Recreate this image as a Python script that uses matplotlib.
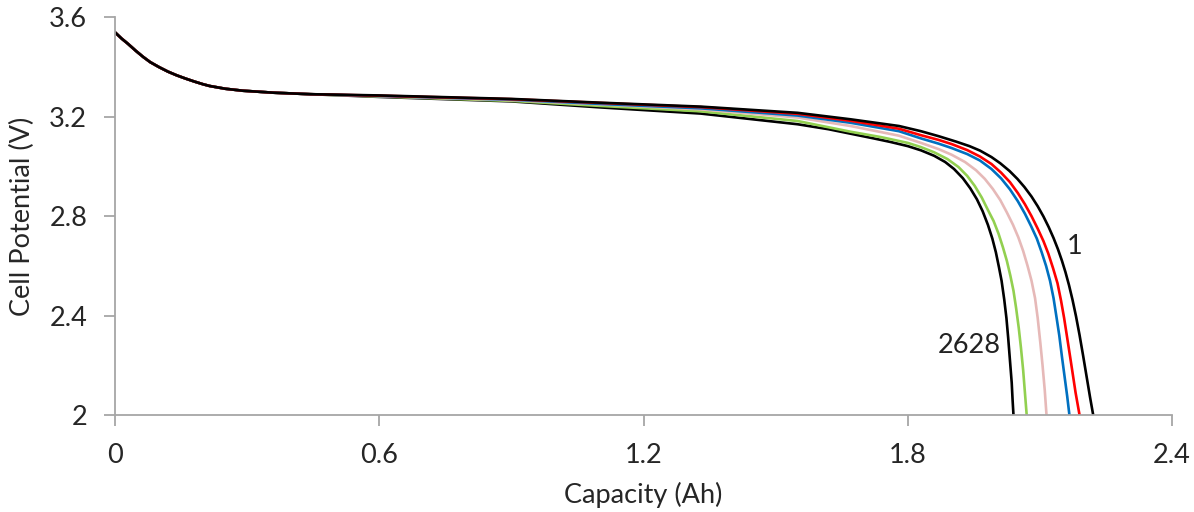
import matplotlib.pyplot as plt

plt.rc('font', family=['Lato', 'DejaVu Sans'], size=19.5)

# shared start of every discharge curve (capacity Ah, potential V)
head_x = [0.0, 0.015, 0.03, 0.047, 0.064, 0.08, 0.1, 0.12, 0.14, 0.16, 0.18, 0.2,
          0.215, 0.25, 0.29, 0.36, 0.443]
head_y = [3.54, 3.515, 3.493, 3.466, 3.441, 3.42, 3.40, 3.382, 3.367, 3.354, 3.342, 3.331,
          3.324, 3.313, 3.305, 3.297, 3.291]

# cycle 1 (black)
c1_x = [0.6, 0.9, 1.1, 1.33, 1.55, 1.67, 1.78, 1.83, 1.87, 1.91, 1.94, 1.964, 1.99, 2.01,
        2.031, 2.049, 2.065, 2.081, 2.095, 2.108, 2.120, 2.131, 2.141, 2.150, 2.158, 2.166,
        2.174, 2.182, 2.190, 2.198, 2.206, 2.214, 2.221]
c1_y = [3.286, 3.272, 3.257, 3.241, 3.216, 3.190, 3.163, 3.142, 3.122, 3.100, 3.082, 3.064,
        3.038, 3.013, 2.982, 2.950, 2.917, 2.879, 2.840, 2.799, 2.756, 2.712, 2.667, 2.621,
        2.575, 2.523, 2.464, 2.397, 2.322, 2.240, 2.155, 2.070, 2.0]
# red
red_x = [0.6, 0.9, 1.1, 1.33, 1.55, 1.67, 1.78, 1.83, 1.87, 1.90, 1.935, 1.964, 1.99, 2.012,
         2.032, 2.050, 2.066, 2.081, 2.095, 2.108, 2.119, 2.130, 2.140, 2.148, 2.155, 2.162,
         2.169, 2.175, 2.181, 2.186, 2.190]
red_y = [3.285, 3.271, 3.256, 3.239, 3.212, 3.184, 3.152, 3.126, 3.107, 3.090, 3.066, 3.040,
         3.010, 2.975, 2.937, 2.893, 2.848, 2.80, 2.75, 2.70, 2.65, 2.59, 2.53, 2.46, 2.39,
         2.31, 2.23, 2.16, 2.09, 2.04, 2.0]
# blue
blue_x = [0.6, 0.9, 1.1, 1.33, 1.55, 1.67, 1.78, 1.83, 1.87, 1.90, 1.935, 1.964, 1.99, 2.012,
          2.032, 2.050, 2.066, 2.080, 2.093, 2.104, 2.114, 2.123, 2.131, 2.138, 2.144, 2.150,
          2.156, 2.162, 2.167]
blue_y = [3.284, 3.269, 3.252, 3.234, 3.205, 3.176, 3.142, 3.113, 3.092, 3.074, 3.05, 3.024,
          2.99, 2.952, 2.908, 2.860, 2.81, 2.76, 2.71, 2.655, 2.60, 2.54, 2.47, 2.39, 2.32,
          2.235, 2.155, 2.075, 2.0]
# pink
pink_x = [0.6, 0.9, 1.1, 1.33, 1.55, 1.67, 1.78, 1.83, 1.87, 1.90, 1.93, 1.955, 1.975, 1.993,
          2.010, 2.025, 2.039, 2.051, 2.062, 2.072, 2.081, 2.089, 2.095, 2.101, 2.106, 2.111,
          2.115]
pink_y = [3.283, 3.267, 3.250, 3.230, 3.197, 3.163, 3.124, 3.095, 3.070, 3.047, 3.018, 2.985,
          2.950, 2.910, 2.865, 2.815, 2.765, 2.715, 2.66, 2.60, 2.54, 2.47, 2.39, 2.29, 2.20,
          2.10, 2.0]
# green
green_x = [0.6, 0.9, 1.1, 1.33, 1.55, 1.67, 1.74, 1.80, 1.83, 1.86, 1.89, 1.915, 1.935, 1.952,
           1.968, 1.982, 1.995, 2.006, 2.016, 2.025, 2.033, 2.040, 2.046, 2.052, 2.057, 2.062,
           2.066, 2.070]
green_y = [3.282, 3.264, 3.244, 3.222, 3.183, 3.14, 3.118, 3.095, 3.078, 3.057, 3.030, 2.998,
           2.962, 2.922, 2.875, 2.825, 2.78, 2.73, 2.675, 2.62, 2.56, 2.50, 2.43, 2.35, 2.27,
           2.18, 2.09, 2.0]
# cycle 2628 (black)
c2628_x = [0.6, 0.9, 1.1, 1.33, 1.55, 1.62, 1.67, 1.72, 1.76, 1.80, 1.83, 1.86, 1.885, 1.905,
           1.925, 1.942, 1.957, 1.970, 1.982, 1.992, 2.000, 2.007, 2.013, 2.019, 2.024, 2.028,
           2.032, 2.036, 2.038, 2.040]
c2628_y = [3.280, 3.262, 3.238, 3.213, 3.17, 3.150, 3.132, 3.114, 3.099, 3.082, 3.065, 3.043,
           3.018, 2.990, 2.953, 2.912, 2.868, 2.820, 2.765, 2.710, 2.655, 2.595, 2.540, 2.465,
           2.39, 2.31, 2.22, 2.13, 2.06, 2.0]

x_ticks = [0, 0.6, 1.2, 1.8, 2.4]
x_tick_labels = ['0', '0.6', '1.2', '1.8', '2.4']
y_ticks = [2, 2.4, 2.8, 3.2, 3.6]
y_tick_labels = ['2', '2.4', '2.8', '3.2', '3.6']

fig = plt.figure(figsize=(11.94, 5.12), dpi=100)
ax = fig.add_axes([0.0963, 0.1895, 0.8853, 0.7765])

lw = 1.9
ax.plot(head_x + c2628_x, head_y + c2628_y, color='black', lw=lw)
ax.plot(head_x + green_x, head_y + green_y, color='#92D050', lw=lw)
ax.plot(head_x + pink_x, head_y + pink_y, color='#E6B9B8', lw=lw)
ax.plot(head_x + blue_x, head_y + blue_y, color='#0070C0', lw=lw)
ax.plot(head_x + red_x, head_y + red_y, color='#FF0000', lw=lw)
ax.plot(head_x + c1_x, head_y + c1_y, color='black', lw=lw)

ax.text(2.178, 2.677, '1', ha='center', va='center', color='#222222')
ax.text(2.01, 2.28, '2628', ha='right', va='center', color='#222222')

ax.set_xlim(0, 2.4)
ax.set_ylim(2, 3.6)
ax.set_xticks(x_ticks)
ax.set_xticklabels(x_tick_labels)
ax.set_yticks(y_ticks)
ax.set_yticklabels(y_tick_labels)

for side in ['top', 'right']:
    ax.spines[side].set_visible(False)
for side in ['left', 'bottom']:
    ax.spines[side].set_color('#a6a6a6')
    ax.spines[side].set_linewidth(1.3)
ax.tick_params(direction='out', length=8, width=1.3, color='#a6a6a6',
               labelcolor='#262626', pad=12)

ax.set_xlabel('Capacity (Ah)', color='#262626', labelpad=10)
ax.set_ylabel('Cell Potential (V)', color='#262626', labelpad=10)

fig.savefig('out.png', dpi=100)
